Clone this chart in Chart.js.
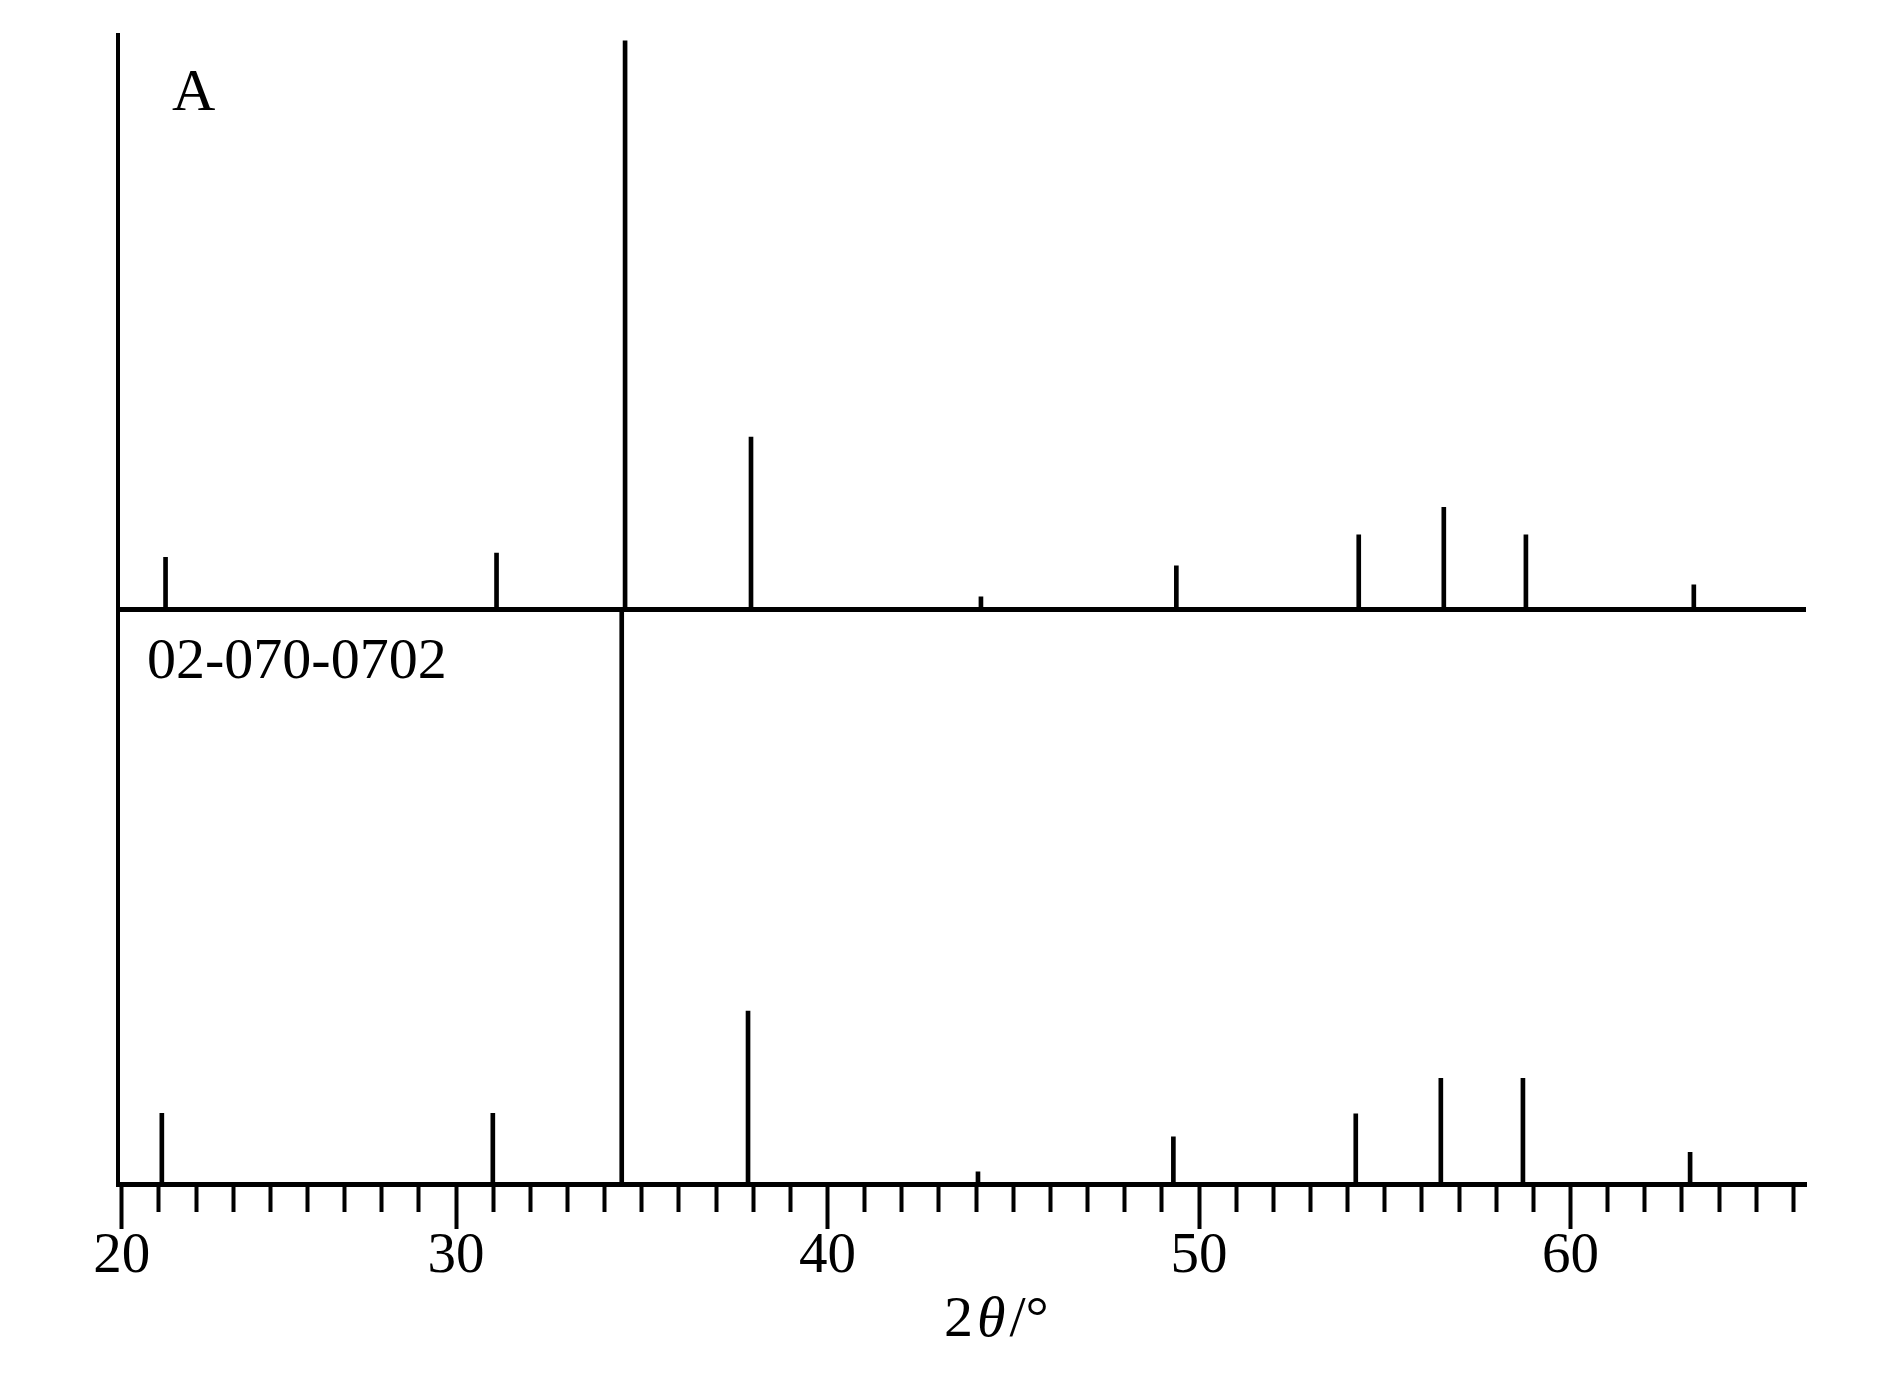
<!DOCTYPE html>
<html>
<head>
<meta charset="utf-8">
<script src="https://cdn.jsdelivr.net/npm/chart.js@4.4.1/dist/chart.umd.min.js"></script>
<style>
  html, body { margin: 0; padding: 0; background: #ffffff; }
  #wrap { width: 1890px; height: 1382px; position: relative; }
  canvas { background: #ffffff; }
</style>
</head>
<body>
<div id="wrap"><canvas id="c"></canvas></div>
<script>
// ---- data ----
// upper pattern (sample A): peak positions (2θ, degrees) and relative heights
const sampleAngles    = [22.18, 31.09, 34.55, 37.94, 44.13, 49.39, 54.30, 56.59, 58.80, 63.32];
const sampleIntensity = [9.1,   9.8,   99.0,  30.0,  2.2,   7.6,   13.0,  17.8,  13.0,  4.3];
// lower pattern (reference card 02-070-0702)
const refAngles       = [22.08, 30.99, 34.46, 37.86, 44.05, 49.31, 54.22, 56.51, 58.72, 63.22];
const refIntensity    = [12.3,  12.3,  100,   30.1,  2.1,   8.2,   12.2,  18.4,  18.4,  5.5];
// x axis
const xRange          = [20.9, 66.34];
const minorTickFirst  = 21;
const minorTickLast   = 66;
const majorTickValues = [21, 30, 40, 50, 60];
const majorTickLabels = ['20', '30', '40', '50', '60'];
// texts
const sampleLabel = 'A';
const refLabel    = '02-070-0702';
const xTitleParts = [['2', false], ['θ', true], ['/°', false]];

const SERIF = '"Liberation Serif", "Times New Roman", serif';

function toPoints(xs, ys) { return xs.map((x, i) => ({ x: x, y: ys[i] })); }

const textPlugin = {
  id: 'texts',
  afterDraw(chart) {
    const ctx = chart.ctx;
    const area = chart.chartArea;
    ctx.save();
    ctx.fillStyle = '#000';
    ctx.textAlign = 'left';
    ctx.textBaseline = 'alphabetic';
    ctx.font = '60px ' + SERIF;
    ctx.fillText(sampleLabel, area.left + 54, 110);
    ctx.font = '58px ' + SERIF;
    ctx.fillText(refLabel, area.left + 29, 678);
    // axis title with italic theta
    let x = 944;
    const y = 1336;
    for (const [t, it] of xTitleParts) {
      ctx.font = (it ? 'italic ' : '') + '58px ' + SERIF;
      ctx.fillText(t, x, y);
      x += ctx.measureText(t).width + 4;
    }
    ctx.restore();
  }
};

new Chart(document.getElementById('c'), {
  type: 'bar',
  data: {
    datasets: [
      {
        label: refLabel,
        data: toPoints(refAngles, refIntensity),
        yAxisID: 'yRef',
        backgroundColor: '#000',
        borderWidth: 0,
        barThickness: 4,
        grouped: false
      },
      {
        label: sampleLabel,
        data: toPoints(sampleAngles, sampleIntensity),
        yAxisID: 'ySample',
        backgroundColor: '#000',
        borderWidth: 0,
        barThickness: 4,
        grouped: false
      }
    ]
  },
  options: {
    responsive: true,
    maintainAspectRatio: false,
    animation: false,
    layout: { padding: { left: 118, right: 84, top: 35, bottom: 96 } },
    plugins: { legend: { display: false }, tooltip: { enabled: false }, title: { display: false } },
    scales: {
      x: {
        type: 'linear',
        position: 'bottom',
        min: xRange[0],
        max: xRange[1],
        offset: false,
        afterBuildTicks(scale) {
          const t = [];
          for (let v = minorTickFirst; v <= minorTickLast; v++) t.push({ value: v });
          scale.ticks = t;
        },
        border: { display: true, color: '#000', width: 5 },
        grid: {
          offset: false,
          drawOnChartArea: false,
          drawTicks: true,
          tickLength: 45,
          tickWidth: 4,
          tickColor: '#000',
          tickBorderDash: (ctx) => (ctx.tick && majorTickValues.includes(ctx.tick.value)) ? [] : [25, 200]
        },
        ticks: {
          autoSkip: false,
          maxRotation: 0,
          padding: 0,
          color: '#000',
          font: { family: SERIF, size: 57, lineHeight: 1 },
          callback: (v) => {
            const i = majorTickValues.indexOf(v);
            return i >= 0 ? majorTickLabels[i] : '';
          }
        }
      },
      yRef: {
        type: 'linear',
        position: 'left',
        stack: 'panels',
        stackWeight: 1,
        min: 0,
        max: 100,
        border: { display: true, color: '#000', width: 4 },
        grid: { display: false, drawTicks: false },
        ticks: { display: false }
      },
      ySample: {
        type: 'linear',
        position: 'left',
        stack: 'panels',
        stackWeight: 1,
        min: 0,
        max: 100,
        border: { display: true, color: '#000', width: 4 },
        grid: {
          display: true,
          drawTicks: false,
          drawOnChartArea: true,
          lineWidth: 5,
          color: (ctx) => (ctx.tick && ctx.tick.value === 0) ? '#000' : 'rgba(0,0,0,0)'
        },
        ticks: { display: false }
      }
    }
  },
  plugins: [textPlugin]
});
</script>
</body>
</html>
